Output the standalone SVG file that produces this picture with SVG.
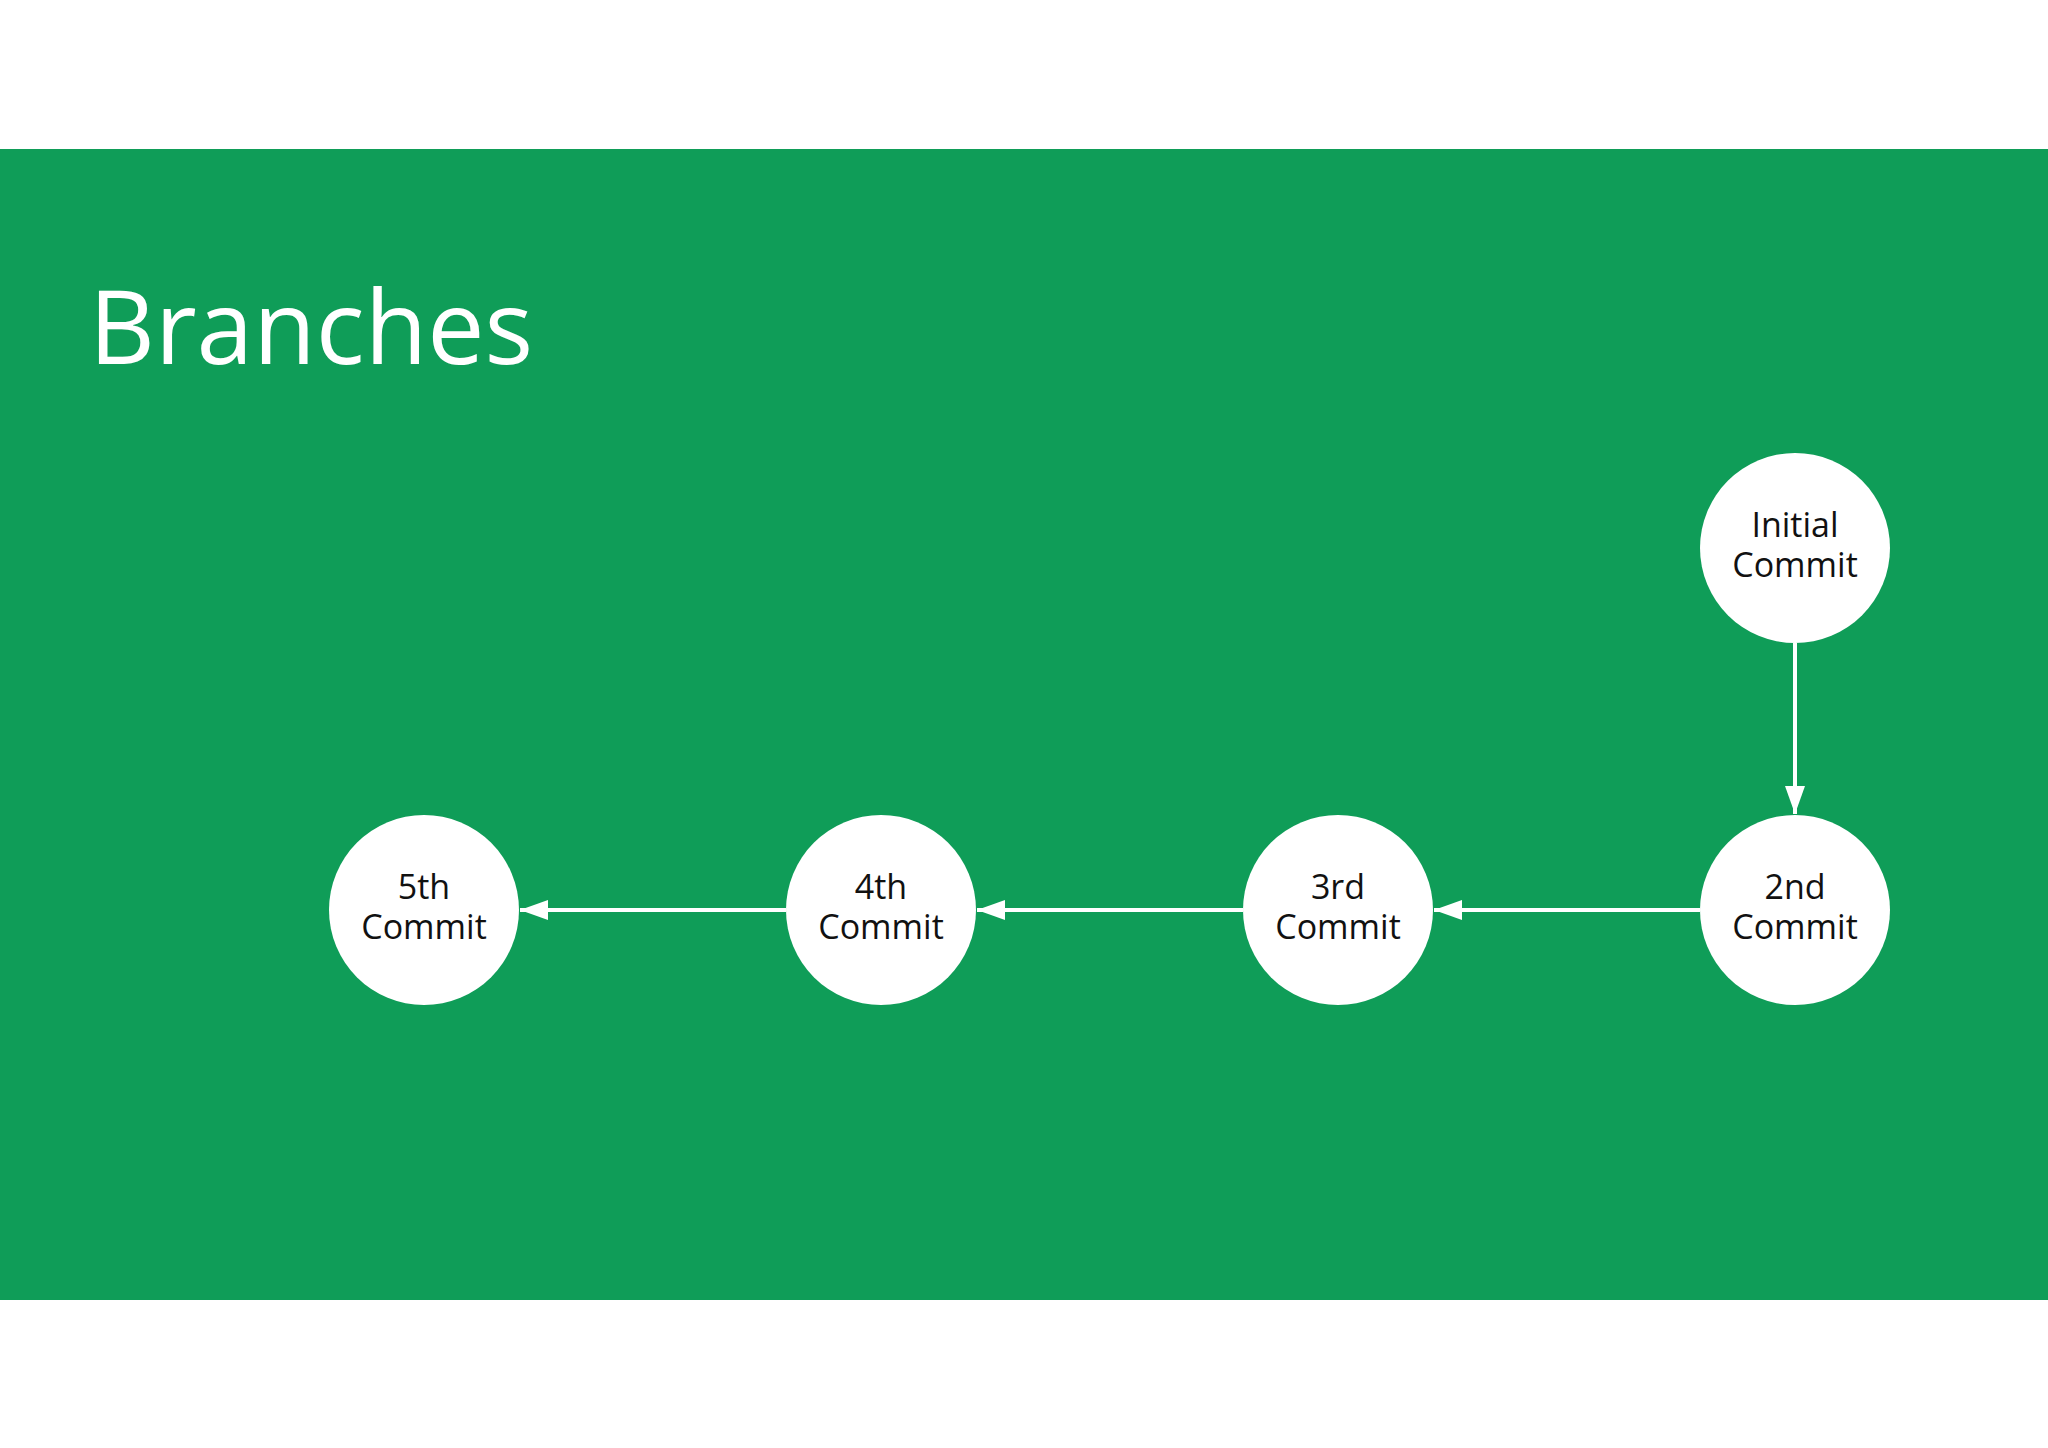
<svg xmlns="http://www.w3.org/2000/svg" width="2048" height="1448" viewBox="0 0 2048 1448">
<style>
.node circle{fill:#ffffff;}
.node text{font-family:"Open Sans","Noto Sans","Liberation Sans",sans-serif;font-size:34px;fill:#111111;text-anchor:middle;}
.edge{stroke:#ffffff;stroke-width:4;fill:none;marker-end:url(#arrow);}
.title{font-family:"Open Sans","Noto Sans","Liberation Sans",sans-serif;font-size:102px;fill:#ffffff;}
</style>
<defs>
<marker id="arrow" markerUnits="userSpaceOnUse" markerWidth="30" markerHeight="22" refX="28" refY="10" orient="auto">
<path d="M0,0 L28,10 L0,20 Z" fill="#ffffff"/>
</marker>
</defs>
<rect x="0" y="0" width="2048" height="1448" fill="#ffffff"/>
<rect x="0" y="149" width="2048" height="1151" fill="#0f9d58"/>
<text class="title" x="89" y="364">Branches</text>
<g id="connectors">
<line class="edge" x1="1795" y1="643" x2="1795" y2="814"/>
<line class="edge" x1="1700" y1="910" x2="1434" y2="910"/>
<line class="edge" x1="1243" y1="910" x2="977" y2="910"/>
<line class="edge" x1="786" y1="910" x2="520" y2="910"/>
</g>
<g id="node-initial" class="node">
<circle cx="1795" cy="548" r="95"/>
<text x="1795" y="537">Initial</text>
<text x="1795" y="577">Commit</text>
</g>
<g id="node-2nd" class="node">
<circle cx="1795" cy="910" r="95"/>
<text x="1795" y="899">2nd</text>
<text x="1795" y="939">Commit</text>
</g>
<g id="node-3rd" class="node">
<circle cx="1338" cy="910" r="95"/>
<text x="1338" y="899">3rd</text>
<text x="1338" y="939">Commit</text>
</g>
<g id="node-4th" class="node">
<circle cx="881" cy="910" r="95"/>
<text x="881" y="899">4th</text>
<text x="881" y="939">Commit</text>
</g>
<g id="node-5th" class="node">
<circle cx="424" cy="910" r="95"/>
<text x="424" y="899">5th</text>
<text x="424" y="939">Commit</text>
</g>
</svg>
